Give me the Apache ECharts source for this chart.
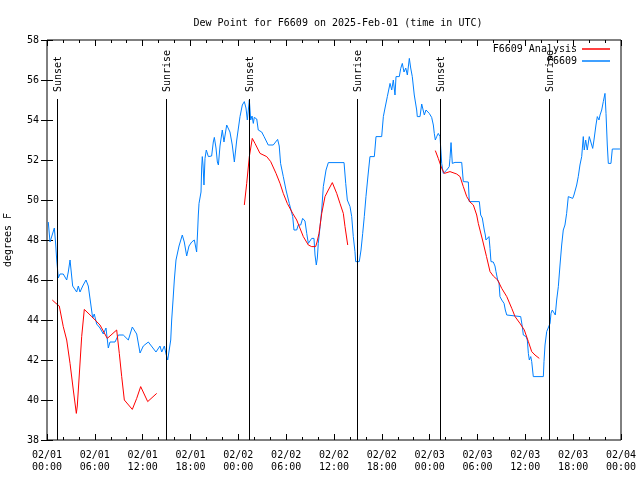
<!DOCTYPE html>
<html>
<head>
<meta charset="utf-8">
<script src="https://cdn.jsdelivr.net/npm/echarts@6/dist/echarts.min.js"></script>
<style>html,body{margin:0;padding:0;background:#fff}#c{width:640px;height:480px}</style>
</head>
<body>
<div id="c"></div>
<script>
// hours since 2025-02-01 00:00 UTC
const tickLabels = ["02/01\n00:00","02/01\n06:00","02/01\n12:00","02/01\n18:00","02/02\n00:00","02/02\n06:00","02/02\n12:00","02/02\n18:00","02/03\n00:00","02/03\n06:00","02/03\n12:00","02/03\n18:00","02/04\n00:00"];
const sunHours = [1.3, 14.95, 25.37, 38.9, 49.33, 62.98];
const sunLabels = ["Sunset","Sunrise","Sunset","Sunrise","Sunset","Sunrise"];
const sunLineTop = 55.05;

const obsPoints = [[0.16,48.9],[0.38,47.9],[0.92,48.6],[1.07,47.9],[1.22,47.0],[1.42,46.1],[1.63,46.3],[2.04,46.3],[2.47,46.0],[2.67,46.4],[2.89,47.0],[3.22,45.7],[3.72,45.4],[3.93,45.7],[4.14,45.4],[4.48,45.7],[4.89,46.0],[5.18,45.7],[5.73,44.1],[5.93,44.3],[6.23,43.8],[6.65,43.6],[7.06,43.3],[7.4,43.6],[7.69,42.6],[7.9,42.9],[8.53,42.9],[8.95,43.25],[9.57,43.25],[10.2,43.0],[10.7,43.65],[11.25,43.3],[11.67,42.35],[12.08,42.7],[12.71,42.9],[13.67,42.4],[14.17,42.7],[14.39,42.4],[14.72,42.7],[14.93,42.3],[15.14,42.0],[15.35,42.0],[15.52,43.0],[15.64,44.0],[15.81,45.0],[15.97,46.0],[16.18,47.0],[16.56,47.7],[16.97,48.25],[17.22,47.9],[17.52,47.2],[17.81,47.7],[18.15,47.9],[18.48,48.0],[18.77,47.4],[18.9,48.5],[18.98,49.25],[19.07,49.83],[19.32,50.4],[19.4,51.6],[19.48,52.17],[19.57,51.75],[19.69,50.75],[19.82,52.08],[19.98,52.5],[20.24,52.17],[20.65,52.2],[20.86,52.9],[20.99,53.13],[21.2,52.6],[21.37,51.9],[21.5,51.75],[21.7,52.7],[21.99,53.5],[22.2,52.9],[22.54,53.75],[22.95,53.4],[23.24,52.75],[23.5,51.9],[23.8,53.0],[24.21,54.17],[24.5,54.75],[24.75,54.92],[24.96,54.6],[25.13,54.0],[25.38,55.0],[25.55,54.0],[25.72,54.2],[25.88,53.83],[26.0,54.13],[26.31,54.05],[26.5,53.5],[26.93,53.4],[27.23,53.17],[27.75,52.75],[28.38,52.75],[28.93,53.03],[29.13,52.7],[29.3,51.83],[29.64,51.17],[29.98,50.5],[30.39,49.83],[30.82,49.17],[30.98,48.5],[31.32,48.5],[31.52,48.75],[31.82,48.75],[32.07,49.08],[32.36,48.95],[32.58,48.33],[32.78,47.83],[32.99,47.9],[33.2,48.08],[33.49,48.08],[33.62,47.25],[33.78,46.75],[33.91,47.1],[34.03,47.83],[34.25,48.67],[34.46,49.5],[34.66,50.67],[35.0,51.5],[35.29,51.87],[37.26,51.87],[37.47,50.83],[37.67,50.0],[38.01,49.67],[38.22,49.17],[38.42,48.17],[38.63,47.42],[38.72,46.92],[39.17,46.92],[39.39,47.5],[39.6,48.33],[39.8,49.17],[40.01,50.17],[40.26,51.2],[40.51,52.17],[41.06,52.17],[41.27,53.17],[41.98,53.17],[42.19,54.17],[42.4,54.6],[42.69,55.17],[43.03,55.83],[43.24,55.5],[43.44,56.0],[43.65,55.25],[43.78,56.17],[44.19,56.17],[44.37,56.58],[44.57,56.83],[44.78,56.4],[45.0,56.6],[45.2,56.25],[45.45,57.08],[45.62,56.6],[45.82,56.17],[46.07,55.25],[46.37,54.5],[46.45,54.17],[46.79,54.17],[47.0,54.8],[47.2,54.75],[47.33,54.25],[47.54,54.5],[47.7,54.45],[47.95,54.33],[48.25,54.13],[48.46,53.75],[48.58,53.33],[48.71,53.0],[48.88,53.17],[49.08,53.33],[49.3,53.17],[49.39,52.58],[49.51,51.83],[49.71,51.33],[49.92,51.4],[50.14,51.5],[50.46,51.67],[50.55,52.08],[50.68,52.87],[50.84,51.83],[51.18,51.88],[52.02,51.88],[52.22,50.92],[52.85,50.9],[52.97,49.92],[54.23,49.92],[54.4,49.25],[54.6,49.1],[54.73,49.17],[54.85,48.5],[54.98,48.25],[55.06,48.0],[55.23,48.0],[55.44,48.17],[55.57,47.58],[55.69,46.92],[55.98,46.9],[56.19,46.7],[56.32,46.42],[56.53,46.0],[56.7,45.85],[56.82,45.17],[57.04,45.0],[57.33,44.83],[57.49,44.5],[57.67,44.25],[57.87,44.17],[59.42,44.17],[59.62,43.67],[59.75,43.25],[60.09,43.17],[60.25,43.0],[60.38,42.33],[60.5,42.0],[60.68,42.17],[60.8,41.92],[61.0,41.17],[62.26,41.17],[62.34,41.92],[62.47,42.75],[62.68,43.42],[62.88,43.5],[63.1,43.83],[63.22,44.33],[63.38,44.5],[63.59,44.5],[63.76,44.25],[63.93,45.0],[64.14,45.67],[64.35,46.75],[64.56,47.75],[64.76,48.5],[64.97,48.75],[65.18,49.33],[65.39,50.17],[65.6,50.08],[65.94,50.08],[66.1,50.25],[66.44,50.75],[66.64,51.17],[66.85,51.75],[67.07,52.17],[67.27,53.17],[67.39,52.5],[67.57,53.0],[67.77,52.5],[68.02,53.17],[68.27,53.1],[68.45,52.58],[68.61,53.0],[68.86,53.75],[69.03,54.17],[69.24,54.0],[69.37,54.25],[69.58,54.5],[69.78,54.92],[69.99,55.33],[70.12,54.33],[70.28,52.75],[70.41,51.83],[70.74,51.83],[70.91,52.55],[71.87,52.55]];

const anaDay1 = [[0.66,45.0],[1.13,44.83],[1.54,44.7],[2.04,43.67],[2.47,43.0],[2.89,41.83],[3.3,40.5],[3.68,39.33],[3.8,39.7],[4.01,41.0],[4.35,43.17],[4.68,44.53],[5.61,44.17],[6.65,43.75],[7.56,43.08],[8.74,43.5],[9.07,42.33],[9.37,41.17],[9.7,40.0],[10.7,39.53],[11.25,40.08],[11.75,40.67],[12.63,39.92],[13.76,40.33]];
const anaDay2 = [[24.75,49.75],[25.05,50.83],[25.38,52.17],[25.75,53.08],[26.09,52.83],[26.72,52.33],[27.56,52.17],[28.06,51.92],[28.73,51.33],[29.23,50.83],[29.64,50.33],[30.14,49.83],[30.82,49.33],[31.32,49.0],[32.15,48.17],[32.78,47.75],[33.2,47.67],[33.7,47.67],[33.87,47.9],[34.12,48.33],[34.46,49.33],[34.87,50.17],[35.29,50.5],[35.79,50.87],[36.34,50.33],[36.75,49.83],[37.17,49.33],[37.38,48.67],[37.72,47.75]];
const anaDay3 = [[48.71,52.47],[49.08,52.08],[49.51,51.58],[49.84,51.33],[50.55,51.42],[51.39,51.3],[51.81,51.17],[52.22,50.67],[52.65,50.17],[53.06,49.9],[53.48,49.75],[53.9,49.25],[54.1,48.83],[54.63,48.0],[55.13,47.17],[55.57,46.42],[55.98,46.2],[56.53,46.0],[57.04,45.58],[57.67,45.17],[58.3,44.58],[58.71,44.17],[59.33,43.83],[59.87,43.5],[60.38,42.92],[60.8,42.42],[61.21,42.25],[61.75,42.08]];

const FONT = "DejaVu Sans Mono";
const anaData = anaDay1.concat([[19, null]], anaDay2, [[43, null]], anaDay3);

const chart = echarts.init(document.getElementById('c'), null, {renderer: 'canvas'});
const xBase = {
  type: 'value', min: 0, max: 72, interval: 6,
  axisLine: {show: false},
  axisTick: {show: true, inside: true, length: 6, lineStyle: {color: '#000'}},
  minorTick: {show: true, splitNumber: 3, length: 3, lineStyle: {color: '#000'}},
  splitLine: {show: false}
};
const yBase = {
  type: 'value', min: 38, max: 58, interval: 2,
  axisLine: {show: false},
  axisTick: {show: true, inside: true, length: 6, lineStyle: {color: '#000'}},
  splitLine: {show: false}
};
chart.setOption({
  animation: false,
  backgroundColor: '#fff',
  textStyle: {fontFamily: FONT},
  title: {
    text: 'Dew Point for F6609 on 2025-Feb-01 (time in UTC)',
    left: 333, top: 13, textAlign: 'center',
    textStyle: {fontFamily: FONT, fontSize: 10, fontWeight: 'normal', color: '#000'}
  },
  legend: [
    {data: ['F6609 Analysis'], right: 30, top: 44, padding: 0, align: 'right', icon: 'rect', itemWidth: 28, itemHeight: 1.5,
     textStyle: {fontFamily: FONT, fontSize: 10, color: '#000'}},
    {data: ['F6609'], right: 30, top: 56, padding: 0, align: 'right', icon: 'rect', itemWidth: 28, itemHeight: 1.5,
     textStyle: {fontFamily: FONT, fontSize: 10, color: '#000'}}
  ],
  grid: {left: 47, right: 19, top: 40, bottom: 40, show: true, borderColor: '#000', borderWidth: 1,
         containLabel: false, outerBoundsMode: 'none'},
  xAxis: [
    Object.assign({}, xBase, {position: 'bottom',
      axisLabel: {show: true, margin: 9, fontFamily: FONT, fontSize: 10, color: '#000', lineHeight: 12,
        formatter: v => tickLabels[Math.round(v / 6)]}}),
    Object.assign({}, xBase, {position: 'top', axisLabel: {show: false}})
  ],
  yAxis: [
    Object.assign({}, yBase, {position: 'left',
      name: 'degrees F', nameLocation: 'middle', nameGap: 34, nameRotate: 90,
      nameTextStyle: {fontFamily: FONT, fontSize: 10, color: '#000'},
      axisLabel: {show: true, margin: 8, fontFamily: FONT, fontSize: 10, color: '#000'}}),
    Object.assign({}, yBase, {position: 'right', axisLabel: {show: false}})
  ],
  series: [
    {
      name: 'F6609 Analysis', type: 'line', data: anaData, showSymbol: false, connectNulls: false,
      lineStyle: {color: '#ff0000', width: 1}, itemStyle: {color: '#ff0000'}, z: 3
    },
    {
      name: 'F6609', type: 'line', data: obsPoints, showSymbol: false,
      lineStyle: {color: '#0080ff', width: 1}, itemStyle: {color: '#0080ff'}, z: 2
    },
    {
      name: 'sun', type: 'custom', data: sunHours.map((h, i) => [h, i]), z: 4,
      renderItem: function (params, api) {
        const h = api.value(0);
        const i = api.value(1);
        const p0 = api.coord([h, 38]);
        const p1 = api.coord([h, sunLineTop]);
        const x = Math.round(p0[0]) + 0.5;
        return {
          type: 'group',
          children: [
            {type: 'line', shape: {x1: x, y1: p0[1], x2: x, y2: p1[1]}, style: {stroke: '#000', lineWidth: 1}},
            {type: 'text', x: x + 1, y: p1[1] - 7, rotation: Math.PI / 2,
             style: {text: sunLabels[i], fill: '#000', font: '10px "' + FONT + '"', textAlign: 'left', textVerticalAlign: 'middle'}}
          ]
        };
      }
    }
  ]
});
</script>
</body>
</html>
